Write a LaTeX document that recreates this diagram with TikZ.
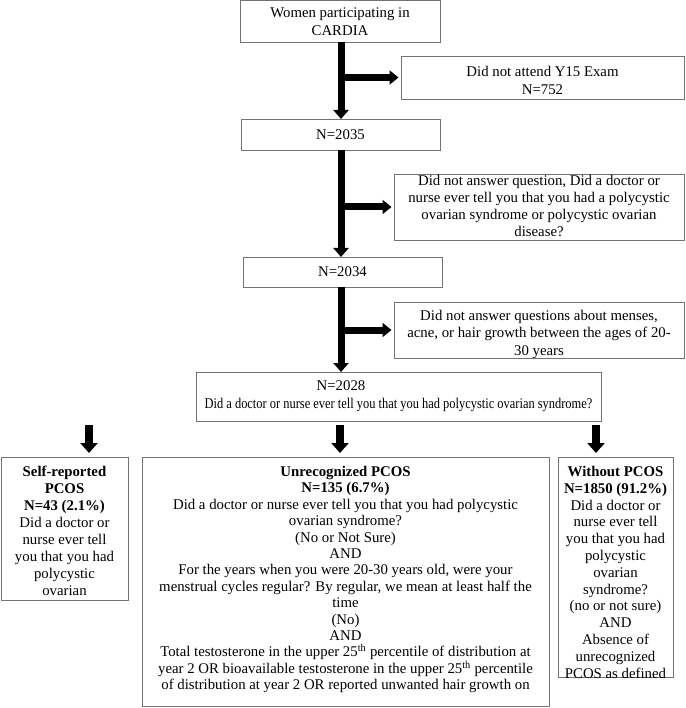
\documentclass[tikz,border=0pt]{standalone}
\usepackage{fontspec}
\usepackage{graphicx}
\setmainfont{Liberation Serif}
\usetikzlibrary{arrows.meta}
\newcommand\myfs[1]{\fontsize{14.8}{#1}\selectfont}
\begin{document}
\begin{tikzpicture}[x=1pt,y=1pt,
  box/.style={draw=black!55, line width=0.9pt, inner sep=0pt, outer sep=0pt},
  txt/.style={inner sep=0pt, align=center},
  spinearrow/.style={line width=7pt, -{Triangle[width=15pt,length=9pt]}},
  sidearrow/.style={line width=7pt, -{Triangle[width=14pt,length=9pt]}, shorten >=2.5pt},
  downarrow/.style={line width=8pt, -{Triangle[width=17pt,length=10pt]}, shorten <=4pt, shorten >=4pt},
]
\useasboundingbox (0,0) rectangle (685,-708);
\coordinate (spine) at (341,0);
\coordinate (cL) at (89,0);
\coordinate (cM) at (340,0);
\coordinate (cR) at (596,0);

% boxes
\node[box, minimum width=200, minimum height=41.5] (b1) at (340,-21.25) {};
\node[box, minimum width=283, minimum height=43] (b1r) at (542.5,-77.5) {};
\node[box, minimum width=199, minimum height=31] (b2) at (340.5,-134.5) {};
\node[box, minimum width=290, minimum height=66] (b2r) at (539,-207) {};
\node[box, minimum width=199, minimum height=30] (b3) at (342.5,-272) {};
\node[box, minimum width=290, minimum height=56] (b3r) at (539,-330) {};
\node[box, minimum width=405, minimum height=49] (b4) at (398.5,-396.5) {};
\node[box, minimum width=127, minimum height=143] (L) at (64.5,-528.5) {};
\node[box, minimum width=407, minimum height=249.5] (M) at (345.5,-581.75) {};
\node[box, minimum width=115, minimum height=220] (R) at (615.5,-567) {};

% texts
\node[txt, font=\myfs{18}] (t1) at (340,-22) {Women participating in\\CARDIA};
\node[txt, font=\myfs{18}] (t1r) at (542.5,-80) {Did not attend Y15 Exam\\N=752};
\node[txt, font=\myfs{17}] (t2) at (340.5,-134.5) {N=2035};
\node[txt, font=\myfs{16.7}] (t2r) at (539,-206) {Did not answer question, Did a doctor or\\nurse ever tell you that you had a polycystic\\ovarian syndrome or polycystic ovarian\\disease?};
\node[txt, font=\myfs{17}] (t3) at (342.5,-272) {N=2034};
\node[txt, font=\myfs{17.5}] (t3r) at (539,-334) {Did not answer questions about menses,\\acne, or hair growth between the ages of 20-\\30 years};
\node[txt, font=\myfs{17}] (t4a) at (341,-386) {N=2028};
\node[txt, font=\myfs{17}] (t4b) at (398.5,-405) {\scalebox{0.84}[1]{Did a doctor or nurse ever tell you that you had polycystic ovarian syndrome?}};

\node[txt, font=\myfs{17}, anchor=north] (tL) at ([yshift=-9pt]L.north) {\textbf{Self-reported}\\\textbf{PCOS}\\\textbf{N=43 (2.1\%)}\\Did a doctor or\\nurse ever tell\\you that you had\\polycystic\\ovarian};
\node[txt, font=\myfs{16.4}, anchor=north] (tM) at ([yshift=-9pt]M.north) {\textbf{Unrecognized PCOS}\\\textbf{N=135 (6.7\%)}\\Did a doctor or nurse ever tell you that you had polycystic\\ovarian syndrome?\\(No or Not Sure)\\AND\\For the years when you were 20-30 years old, were your\\menstrual cycles regular? By regular, we mean at least half the\\time\\(No)\\AND\\Total testosterone in the upper 25\textsuperscript{th} percentile of distribution at\\year 2 OR bioavailable testosterone in the upper 25\textsuperscript{th} percentile\\of distribution at year 2 OR reported unwanted hair growth on};
\node[txt, font=\myfs{16.8}, anchor=north] (tR) at ([yshift=-9pt]R.north) {\textbf{Without PCOS}\\\textbf{N=1850 (91.2\%)}\\Did a doctor or\\nurse ever tell\\you that you had\\polycystic\\ovarian\\syndrome?\\(no or not sure)\\AND\\Absence of\\unrecognized\\PCOS as defined};

% connectors
\draw[spinearrow] (b1.south -| spine) -- (b2.north -| spine);
\draw[spinearrow] (b2.south -| spine) -- (b3.north -| spine);
\draw[spinearrow] (b3.south -| spine) -- (b4.north -| spine);
\draw[sidearrow] (spine |- b1r.west) -- (b1r.west);
\draw[sidearrow] (spine |- b2r.west) -- (b2r.west);
\draw[sidearrow] (spine |- b3r.west) -- (b3r.west);
\draw[downarrow] (b4.south -| cL) -- (L.north -| cL);
\draw[downarrow] (b4.south -| cM) -- (M.north -| cM);
\draw[downarrow] (b4.south -| cR) -- (R.north -| cR);
\end{tikzpicture}
\end{document}
